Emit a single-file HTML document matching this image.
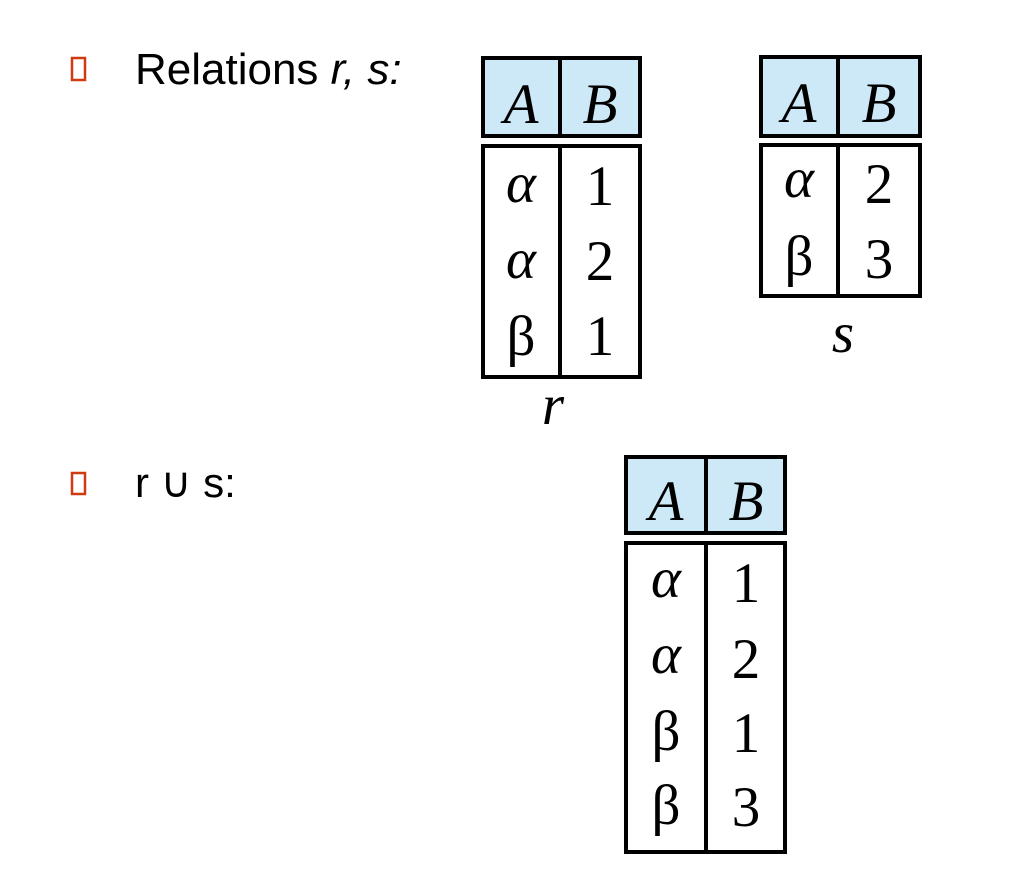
<!DOCTYPE html>
<html><head><meta charset="utf-8"><style>
html,body{margin:0;padding:0;background:#fff;width:1011px;height:884px;overflow:hidden}
</style></head><body>
<svg width="1011" height="884" xmlns="http://www.w3.org/2000/svg">
<g fill="none" stroke="#d03a10" stroke-width="2.5">
<rect x="72" y="58" width="13" height="22"/>
<rect x="72" y="473" width="13" height="21"/>
</g>
<text x="135" y="84" font-family="Liberation Sans, sans-serif" font-size="44" fill="#000">Relations <tspan font-style="italic">r, s:</tspan></text>
<text x="135" y="497" font-family="Liberation Sans, DejaVu Sans, sans-serif" font-size="42" fill="#000">r ∪ s:</text>

<g stroke="#000" stroke-width="4">
<rect x="483" y="58" width="157" height="78" fill="#cde8f7"/>
<line x1="560" y1="58" x2="560" y2="136"/>
<rect x="483" y="146" width="157" height="231" fill="#fff"/>
<line x1="560" y1="146" x2="560" y2="377"/>
<rect x="761" y="57" width="159" height="79" fill="#cde8f7"/>
<line x1="838" y1="57" x2="838" y2="136"/>
<rect x="761" y="145" width="159" height="151" fill="#fff"/>
<line x1="838" y1="145" x2="838" y2="296"/>
<rect x="626" y="457" width="159" height="76" fill="#cde8f7"/>
<line x1="706" y1="457" x2="706" y2="533"/>
<rect x="626" y="543" width="159" height="309" fill="#fff"/>
<line x1="706" y1="543" x2="706" y2="852"/>
</g>

<g font-family="Liberation Serif, serif" font-size="57" text-anchor="middle" fill="#000">
<text x="521" y="123" font-style="italic">A</text><text x="600" y="123" font-style="italic">B</text>
<text x="521" y="202" font-style="italic">α</text><text x="600" y="205">1</text>
<text x="521" y="278" font-style="italic">α</text><text x="600" y="280">2</text>
<text x="521" y="355">β</text><text x="600" y="355">1</text>
<text x="553" y="424" font-style="italic">r</text>

<text x="799" y="122" font-style="italic">A</text><text x="879" y="122" font-style="italic">B</text>
<text x="799" y="197" font-style="italic">α</text><text x="879" y="203">2</text>
<text x="799" y="275">β</text><text x="879" y="278">3</text>
<text x="843" y="352" font-style="italic">s</text>

<text x="666" y="520" font-style="italic">A</text><text x="746" y="520" font-style="italic">B</text>
<text x="666" y="597" font-style="italic">α</text><text x="746" y="602">1</text>
<text x="666" y="673" font-style="italic">α</text><text x="746" y="678">2</text>
<text x="666" y="750">β</text><text x="746" y="752">1</text>
<text x="666" y="824">β</text><text x="746" y="826">3</text>
</g>
</svg>
</body></html>
